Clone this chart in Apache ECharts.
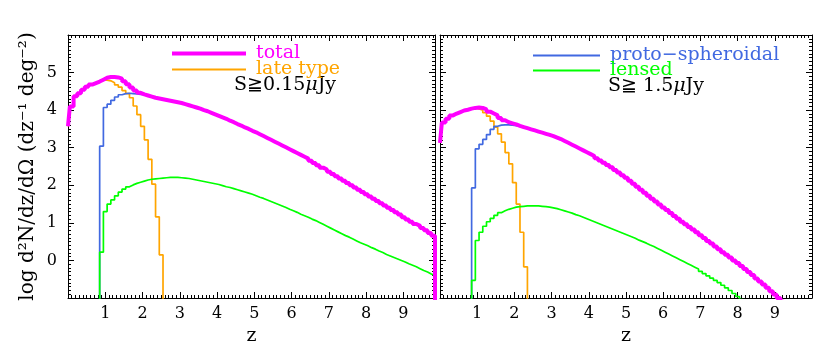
<!DOCTYPE html>
<html><head><meta charset="utf-8">
<script src="https://cdn.jsdelivr.net/npm/echarts@6/dist/echarts.min.js"></script>
<style>html,body{margin:0;padding:0;background:#fff}#c{width:830px;height:356px}</style>
</head><body><div id="c"></div>
<script>
// ---- data (log d2N/dz/dOmega per bin, bins of width 0.1 in z) ----
const binWidth = 0.1;
// Left panel: S >= 0.15 microJy
const leftTotalStart = 0.0;
const leftTotal = [3.57,4.10,4.37,4.45,4.54,4.62,4.68,4.72,4.76,4.81,
 4.86,4.88,4.88,4.87,4.84,4.77,4.69,4.60,4.52,4.46,
 4.42,4.39,4.36,4.33,4.31,4.29,4.27,4.25,4.23,4.21,
 4.19,4.16,4.13,4.10,4.07,4.04,4.00,3.97,3.93,3.89,
 3.85,3.81,3.77,3.72,3.68,3.63,3.59,3.54,3.50,3.45,
 3.41,3.36,3.31,3.26,3.21,3.16,3.11,3.06,3.01,2.96,
 2.91,2.86,2.81,2.76,2.71,2.65,2.59,2.53,2.47,2.42,
 2.36,2.30,2.24,2.18,2.12,2.06,2.00,1.94,1.88,1.82,
 1.76,1.70,1.64,1.58,1.52,1.46,1.40,1.34,1.28,1.22,
 1.15,1.09,1.03,0.97,0.92,0.86,0.80,0.73,0.66];
const leftLateStart = 0.0;
const leftLate = [3.57,4.10,4.37,4.45,4.54,4.62,4.68,4.72,4.76,4.80,
 4.80,4.78,4.73,4.67,4.61,4.52,4.44,4.33,4.11,3.88,
 3.57,3.21,2.69,2.03,1.16,0.15];
const leftProtoStart = 0.9;
const leftProto = [3.04,
 4.07,4.16,4.26,4.35,4.41,4.44,4.45,4.44,4.43,4.42,
 4.41,4.38,4.35,4.32,4.30,4.28,4.26,4.24,4.22,4.20,
 4.18,4.15,4.12,4.09,4.06,4.03,3.99,3.96,3.92,3.88,
 3.84,3.80,3.76,3.71,3.67,3.62,3.58,3.53,3.49,3.44,
 3.40,3.35,3.30,3.25,3.20,3.15,3.10,3.05,3.00,2.95,
 2.90,2.85,2.80,2.75,2.70,2.64,2.58,2.52,2.46,2.41,
 2.35,2.29,2.23,2.17,2.11,2.05,1.99,1.93,1.87,1.81,
 1.75,1.69,1.63,1.57,1.51,1.45,1.39,1.33,1.27,1.21,
 1.14,1.08,1.02,0.96,0.91,0.85,0.79,0.72,0.65];
const leftLensedStart = 0.9;
const leftLensed = [0.22,
 1.30,1.50,1.61,1.72,1.82,1.90,1.96,2.01,2.05,2.08,
 2.11,2.14,2.16,2.17,2.18,2.19,2.20,2.21,2.21,2.21,
 2.20,2.19,2.18,2.16,2.14,2.12,2.10,2.08,2.06,2.04,
 2.02,1.99,1.96,1.94,1.91,1.88,1.85,1.82,1.79,1.76,
 1.72,1.68,1.65,1.61,1.57,1.53,1.49,1.45,1.41,1.36,
 1.32,1.28,1.23,1.19,1.15,1.10,1.06,1.01,0.96,0.91,
 0.86,0.81,0.76,0.71,0.66,0.62,0.57,0.52,0.47,0.43,
 0.39,0.34,0.30,0.25,0.21,0.16,0.12,0.08,0.04,0.00,
 -0.04,-0.09,-0.13,-0.17,-0.22,-0.27,-0.31,-0.36,-0.40];
// Right panel: S >= 1.5 microJy
const rightTotalStart = 0.0;
const rightTotal = [3.13,3.67,3.77,3.86,3.91,3.95,3.99,4.01,4.04,4.06,
 4.07,4.06,4.02,3.96,3.91,3.86,3.79,3.73,3.68,3.65,
 3.62,3.58,3.55,3.52,3.49,3.46,3.43,3.40,3.37,3.34,
 3.31,3.27,3.23,3.18,3.13,3.08,3.03,2.98,2.93,2.88,
 2.83,2.78,2.72,2.66,2.60,2.54,2.48,2.41,2.34,2.27,
 2.20,2.12,2.04,1.96,1.88,1.80,1.72,1.64,1.57,1.49,
 1.41,1.34,1.26,1.18,1.11,1.03,0.96,0.89,0.82,0.75,
 0.67,0.60,0.52,0.45,0.37,0.30,0.22,0.15,0.08,0.00,
 -0.07,-0.15,-0.23,-0.31,-0.39,-0.48,-0.56,-0.64,-0.73,-0.82,
 -0.91,-1.00,-1.10,-1.20];
const rightLateStart = 0.0;
const rightLate = [3.13,3.67,3.77,3.86,3.91,3.95,3.99,4.01,4.04,4.06,
 4.03,4.00,3.93,3.84,3.71,3.55,3.37,3.15,2.87,2.57,
 2.07,1.50,0.75,-0.17];
const rightProtoStart = 0.9;
const rightProto = [1.93,
 2.97,3.09,3.22,3.35,3.49,3.57,3.60,3.61,3.61,3.60,
 3.59,3.57,3.54,3.51,3.48,3.45,3.42,3.39,3.36,3.33,
 3.30,3.26,3.22,3.17,3.12,3.07,3.02,2.97,2.92,2.87,
 2.82,2.77,2.71,2.65,2.59,2.53,2.47,2.40,2.33,2.26,
 2.19,2.11,2.03,1.95,1.87,1.79,1.71,1.63,1.56,1.48,
 1.40,1.33,1.25,1.17,1.10,1.02,0.95,0.88,0.81,0.74,
 0.66,0.59,0.51,0.44,0.36,0.29,0.21,0.14,0.07,-0.01,
 -0.08,-0.16,-0.24,-0.32,-0.40,-0.49,-0.57,-0.65,-0.74,-0.83,
 -0.92,-1.01,-1.11,-1.21];
const rightLensedStart = 0.9;
const rightLensed = [-0.53,
 0.53,0.75,0.91,1.03,1.12,1.20,1.27,1.32,1.36,1.39,
 1.42,1.43,1.44,1.45,1.45,1.45,1.45,1.44,1.43,1.42,
 1.40,1.38,1.35,1.32,1.29,1.26,1.22,1.19,1.15,1.11,
 1.07,1.03,0.99,0.95,0.91,0.87,0.83,0.79,0.75,0.71,
 0.67,0.63,0.59,0.54,0.50,0.46,0.41,0.37,0.32,0.27,
 0.22,0.17,0.12,0.07,0.02,-0.03,-0.08,-0.13,-0.18,-0.23,
 -0.29,-0.35,-0.41,-0.47,-0.53,-0.59,-0.66,-0.73,-0.80,-0.88,
 -0.96,-1.04,-1.12];
const xTickLabels = [1,2,3,4,5,6,7,8,9];
const yTickLabels = [0,1,2,3,4,5];
const seriesNames = ['total','late type','proto\u2212spheroidal','lensed'];
const seriesColors = ['#ff00ff','#ffa500','#4169e1','#00ff00'];
const fluxLabels = ['S\u22670.15', 'S\u2267 1.5'];

// ---- build histogram step points ----
const FLOOR = -5;
function steps(firstCenter, vals) {
  const e0 = firstCenter - binWidth / 2;
  const edge = i => Math.round((e0 + binWidth * i) * 1000) / 1000;
  const pts = [];
  if (e0 > 0) pts.push([edge(0), FLOOR]);
  vals.forEach((v, i) => pts.push([i === 0 && e0 < 0 ? 0 : edge(i), v]));
  pts.push([edge(vals.length), vals[vals.length - 1]]);
  pts.push([edge(vals.length), FLOOR]);
  return pts;
}

const FONT = 'DejaVu Serif';
const black = '#000';

function xAxes(gi, max) {
  const base = {
    gridIndex: gi, type: 'value', min: 0, max: max, interval: 1,
    splitLine: {show: false},
    axisLine: {show: true, onZero: false, lineStyle: {color: black, width: 1}},
    axisTick: {show: true, inside: true, length: 6, lineStyle: {color: black, width: 1}},
    minorTick: {show: true, splitNumber: 10, length: 3, lineStyle: {color: black, width: 1}},
    minorSplitLine: {show: false}
  };
  return [
    Object.assign({}, base, {
      position: 'bottom',
      axisLabel: {show: true, margin: 8, fontFamily: FONT, fontSize: 16, color: black,
        formatter: v => xTickLabels.indexOf(v) >= 0 ? String(v) : ''},
      name: 'z', nameLocation: 'middle', nameGap: 29,
      nameTextStyle: {fontFamily: FONT, fontSize: 19, color: black}
    }),
    Object.assign({}, base, {position: 'top', axisLabel: {show: false}})
  ];
}
function yAxes(gi, labels) {
  const base = {
    gridIndex: gi, type: 'value', min: -1, max: 6, interval: 1,
    splitLine: {show: false},
    axisLine: {show: true, onZero: false, lineStyle: {color: black, width: 1}},
    axisTick: {show: true, inside: true, length: 6, lineStyle: {color: black, width: 1}},
    minorTick: {show: true, splitNumber: 10, length: 3, lineStyle: {color: black, width: 1}}
  };
  const left = Object.assign({}, base, {
    position: 'left',
    axisLabel: {show: labels, margin: 11, fontFamily: FONT, fontSize: 16, color: black,
      formatter: v => yTickLabels.indexOf(v) >= 0 ? String(v) : ''}
  });
  if (labels) {
    Object.assign(left, {
      name: 'log d\u00b2N/dz/d\u03a9 (dz\u207b\u00b9 deg\u207b\u00b2)',
      nameLocation: 'middle', nameGap: 30, nameRotate: 90,
      nameTextStyle: {fontFamily: FONT, fontSize: 20, color: black}
    });
  }
  const right = Object.assign({}, base, {position: 'right', axisLabel: {show: false}});
  return [left, right];
}

function mkSeries(name, color, width, xi, yi, pts) {
  return {
    name: name, type: 'line', step: 'end', data: pts,
    xAxisIndex: xi, yAxisIndex: yi,
    showSymbol: false, symbol: 'none', clip: true, silent: true,
    lineStyle: {color: color, width: width}, itemStyle: {color: color},
    animation: false
  };
}

const series = [
  mkSeries(seriesNames[1], seriesColors[1], 1.7, 0, 0, steps(leftLateStart, leftLate)),
  mkSeries(seriesNames[2], seriesColors[2], 1.7, 0, 0, steps(leftProtoStart, leftProto)),
  mkSeries(seriesNames[3], seriesColors[3], 1.7, 0, 0, steps(leftLensedStart, leftLensed)),
  mkSeries(seriesNames[0], seriesColors[0], 4, 0, 0, steps(leftTotalStart, leftTotal)),
  mkSeries(seriesNames[1], seriesColors[1], 1.7, 2, 2, steps(rightLateStart, rightLate)),
  mkSeries(seriesNames[2], seriesColors[2], 1.7, 2, 2, steps(rightProtoStart, rightProto)),
  mkSeries(seriesNames[3], seriesColors[3], 1.7, 2, 2, steps(rightLensedStart, rightLensed)),
  mkSeries(seriesNames[0], seriesColors[0], 4, 2, 2, steps(rightTotalStart, rightTotal))
];

function legend(idx, left, top, w, h) {
  return {
    data: [{name: seriesNames[idx], textStyle: {color: seriesColors[idx]}}],
    left: left, top: top, padding: 0, icon: 'rect', itemWidth: w, itemHeight: h,
    selectedMode: false,
    textStyle: {fontFamily: FONT, fontSize: 19, padding: [0, 0, 14, 5]}
  };
}

const option = {
  backgroundColor: '#fff',
  animation: false,
  grid: [
    {left: 68, top: 35, width: 367, height: 263, containLabel: false},
    {left: 440, top: 35, width: 372, height: 263, containLabel: false}
  ],
  xAxis: [...xAxes(0, 9.85), ...xAxes(1, 10)],
  yAxis: [...yAxes(0, true), ...yAxes(1, false)],
  legend: [
    legend(0, 172, 44, 74, 4),
    legend(1, 172, 60, 74, 2),
    legend(2, 533, 46, 67, 2),
    legend(3, 533, 61, 67, 2)
  ],
  graphic: [
    {type: 'text', left: 234, top: 76, silent: true,
     style: {text: '{n|' + fluxLabels[0] + '}{i|\u03bc}{n|Jy}',
       rich: {n: {fontFamily: FONT, fontSize: 19, fill: black, color: black},
              i: {fontFamily: FONT, fontSize: 19, fontStyle: 'italic', fill: black, color: black}}}},
    {type: 'text', left: 608, top: 77, silent: true,
     style: {text: '{n|' + fluxLabels[1] + '}{i|\u03bc}{n|Jy}',
       rich: {n: {fontFamily: FONT, fontSize: 19, fill: black, color: black},
              i: {fontFamily: FONT, fontSize: 19, fontStyle: 'italic', fill: black, color: black}}}}
  ],
  series: series
};

const chart = echarts.init(document.getElementById('c'), null, {renderer: 'canvas'});
chart.setOption(option);
</script>
</body></html>
